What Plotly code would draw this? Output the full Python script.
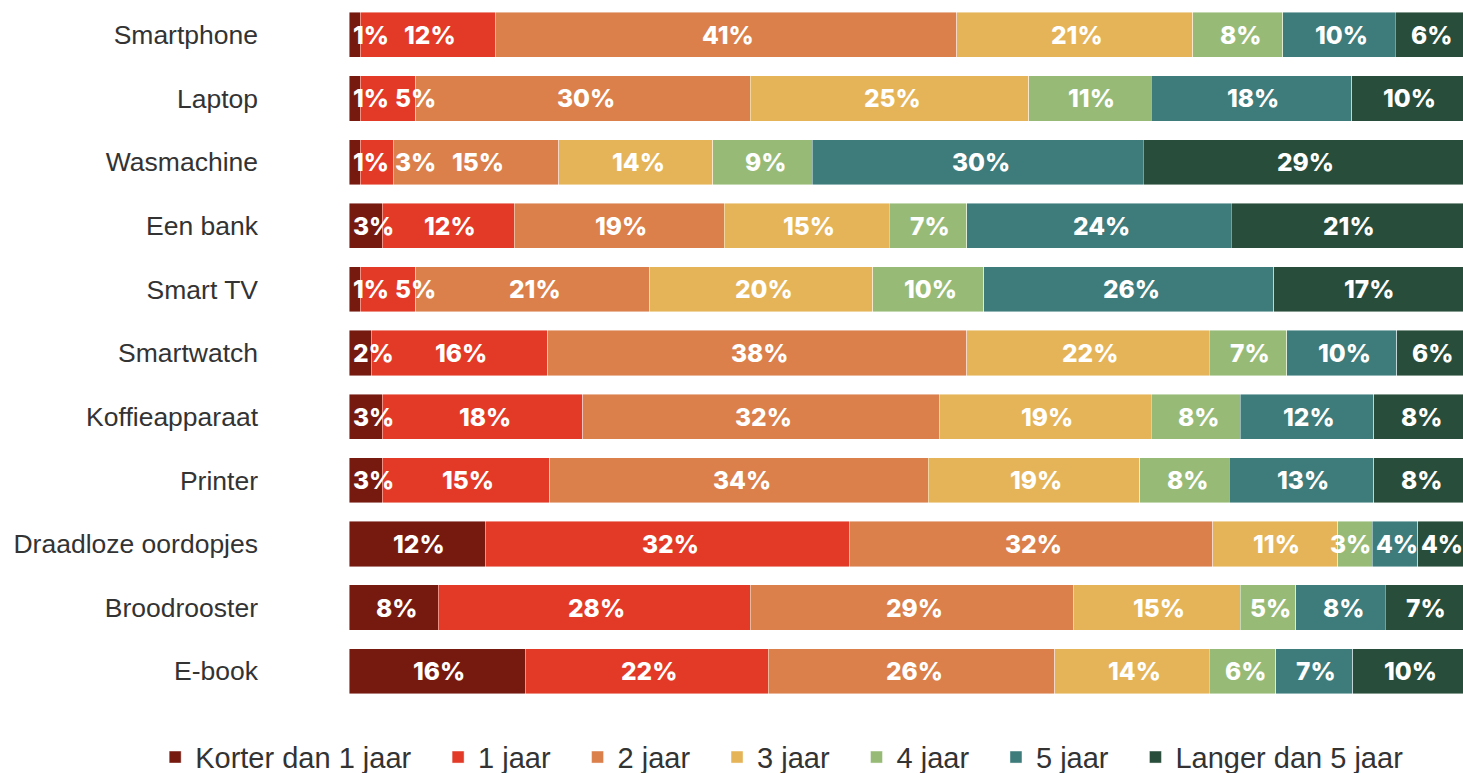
import plotly.graph_objects as go

# Products, listed top to bottom
products = ["Smartphone", "Laptop", "Wasmachine", "Een bank", "Smart TV", "Smartwatch",
            "Koffieapparaat", "Printer", "Draadloze oordopjes", "Broodrooster", "E-book"]

# Expected lifespan answers (% of respondents) per product
korter_dan_1 = [1, 1, 1, 3, 1, 2, 3, 3, 12, 8, 16]
jaar_1 = [12, 5, 3, 12, 5, 16, 18, 15, 32, 28, 22]
jaar_2 = [41, 30, 15, 19, 21, 38, 32, 34, 32, 29, 26]
jaar_3 = [21, 25, 14, 15, 20, 22, 19, 19, 11, 15, 14]
jaar_4 = [8, 11, 9, 7, 10, 7, 8, 8, 3, 5, 6]
jaar_5 = [10, 18, 30, 24, 26, 10, 12, 13, 4, 8, 7]
langer_dan_5 = [6, 10, 29, 21, 17, 6, 8, 8, 4, 7, 10]

series_names = ["Korter dan 1 jaar", "1 jaar", "2 jaar", "3 jaar", "4 jaar", "5 jaar",
                "Langer dan 5 jaar"]
series_values = [korter_dan_1, jaar_1, jaar_2, jaar_3, jaar_4, jaar_5, langer_dan_5]
series_colors = ["#761A10", "#E23A27", "#DB7F4B", "#E5B458", "#97BB77", "#3E7B7B", "#284D3A"]

LABEL_SIZE = 24.5
PLOT_PX = 1463 - 349  # horizontal size of the plotting area in pixels
PX_PER_UNIT = PLOT_PX / 100.0
LEGEND_PAD = "\u00a0\u00a0\u2009"  # extra room after each legend entry


def label_width_px(text):
    """Rough rendered width of a bold percentage label."""
    w = 0.0
    for ch in text:
        if ch == "1":
            w += 0.50
        elif ch == "%":
            w += 0.90
        else:
            w += 0.64
    return w * LABEL_SIZE


fig = go.Figure()
for name, vals, color in zip(series_names, series_values, series_colors):
    fig.add_trace(go.Bar(
        y=products, x=vals, name=name + LEGEND_PAD, orientation="h",
        marker=dict(color=color, line=dict(color="rgba(255,255,255,0.55)", width=0.8)),
        hoverinfo="skip",
    ))

# Percentage labels: centred in their segment, nudged apart when they would collide
annotations = []
left_edge = 3 / PX_PER_UNIT
right_edge = 5 / PX_PER_UNIT
gap = 8 / PX_PER_UNIT
for i, prod in enumerate(products):
    row = [vals[i] for vals in series_values]
    total = float(sum(row))
    texts = [f"{v}%" for v in row]
    widths = [label_width_px(t) / PX_PER_UNIT for t in texts]
    lefts = []
    cum = 0.0
    prev_right = left_edge - gap
    for v, w in zip(row, widths):
        share = v / total * 100.0
        left = max(cum + share / 2.0 - w / 2.0, prev_right + gap)
        lefts.append(left)
        prev_right = left + w
        cum += share
    # pull labels back inside the right edge of the bar
    next_left = 100.0 - right_edge + gap
    for k in range(len(lefts) - 1, -1, -1):
        lefts[k] = min(lefts[k], next_left - gap - widths[k])
        next_left = lefts[k]
    for text, left in zip(texts, lefts):
        annotations.append(dict(
            x=left, y=prod, xref="x", yref="y", text=text, showarrow=False,
            xanchor="left", yanchor="middle", borderpad=0,
            font=dict(family="Inter", size=LABEL_SIZE, color="white", weight=800),
        ))

fig.update_layout(
    barmode="stack",
    barnorm="percent",
    bargap=0.29,
    width=1463, height=773,
    margin=dict(l=349, r=0, t=3, b=70, autoexpand=False),
    plot_bgcolor="white", paper_bgcolor="white",
    showlegend=True,
    legend=dict(
        orientation="h", x=-0.174, xanchor="left",
        y=-0.041, yanchor="top",
        font=dict(family="Liberation Sans, Arial", size=29, color="#333333"),
        traceorder="normal", itemclick=False,
    ),
    annotations=annotations,
    xaxis=dict(range=[0, 100], visible=False, fixedrange=True),
    yaxis=dict(
        autorange="reversed", showgrid=False, zeroline=False, showline=False,
        ticks="", ticklabelstandoff=90,
        tickfont=dict(family="Liberation Sans, Arial", size=26.5, color="#333333"),
    ),
)

fig.write_html("out.html")
